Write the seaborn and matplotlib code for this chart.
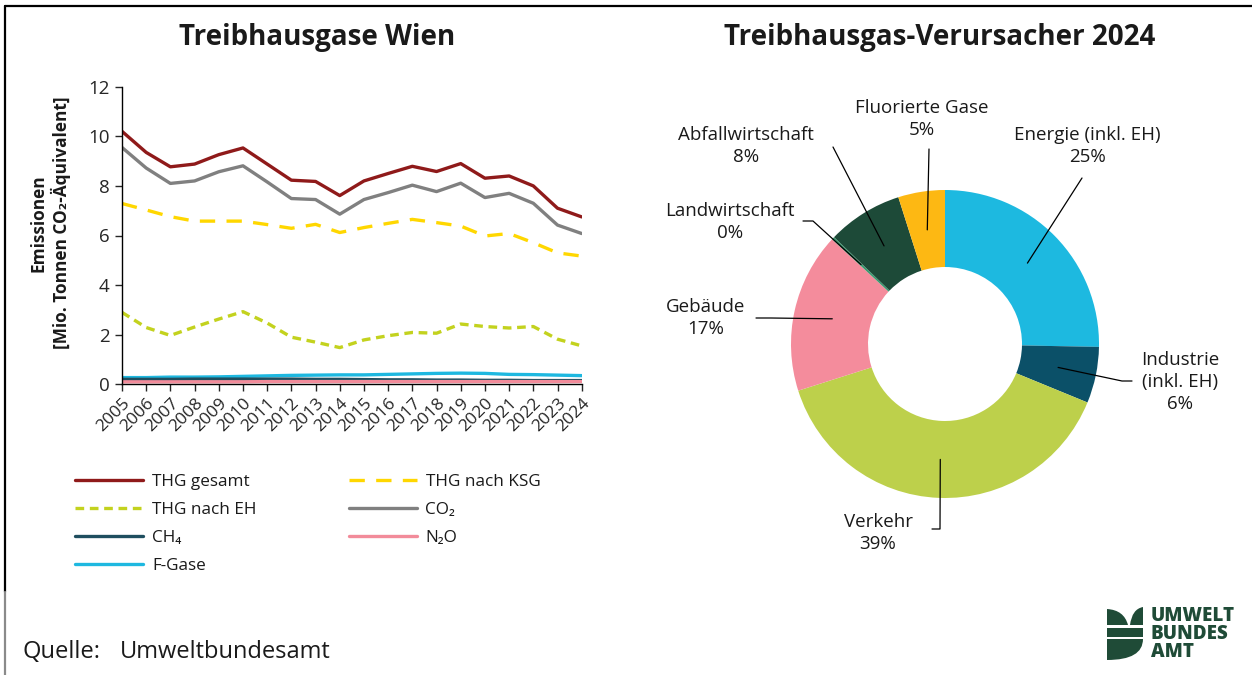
import numpy as np
import pandas as pd
import matplotlib.pyplot as plt
import seaborn as sns
from matplotlib.path import Path
from matplotlib.patches import PathPatch, Rectangle

# --- Daten: Treibhausgase Wien (Mio. t CO2-Äquivalent) ---
years = list(range(2005, 2025))
thg_gesamt = [10.20, 9.35, 8.77, 8.88, 9.26, 9.53, 8.88, 8.23, 8.18, 7.61,
              8.20, 8.50, 8.79, 8.58, 8.90, 8.31, 8.40, 8.00, 7.10, 6.75]
thg_ksg = [7.29, 7.03, 6.76, 6.58, 6.58, 6.58, 6.44, 6.29, 6.45, 6.12,
           6.32, 6.49, 6.65, 6.52, 6.38, 5.98, 6.08, 5.71, 5.30, 5.17]
thg_eh = [2.90, 2.29, 1.97, 2.31, 2.63, 2.93, 2.47, 1.90, 1.70, 1.48,
          1.79, 1.96, 2.09, 2.06, 2.43, 2.33, 2.27, 2.33, 1.82, 1.55]
co2 = [9.55, 8.72, 8.10, 8.20, 8.57, 8.81, 8.16, 7.49, 7.45, 6.86,
       7.45, 7.73, 8.03, 7.77, 8.11, 7.53, 7.70, 7.30, 6.42, 6.08]
ch4 = [0.20, 0.20, 0.20, 0.21, 0.21, 0.21, 0.21, 0.21, 0.20, 0.20,
       0.19, 0.18, 0.18, 0.17, 0.17, 0.16, 0.16, 0.15, 0.15, 0.15]
n2o = [0.10, 0.10, 0.10, 0.10, 0.10, 0.10, 0.11, 0.11, 0.11, 0.11,
       0.11, 0.11, 0.11, 0.11, 0.11, 0.11, 0.11, 0.11, 0.11, 0.11]
fgase = [0.27, 0.27, 0.29, 0.29, 0.30, 0.32, 0.34, 0.36, 0.37, 0.38,
         0.38, 0.40, 0.42, 0.44, 0.45, 0.44, 0.40, 0.39, 0.37, 0.35]

# --- Daten: Verursacher 2024 (%) ---
sectors = ["Energie (inkl. EH)", "Industrie\n(inkl. EH)", "Verkehr", "Gebäude",
           "Landwirtschaft", "Abfallwirtschaft", "Fluorierte Gase"]
shares = [25.3, 5.9, 38.9, 16.8, 0.3, 7.9, 4.9]
sector_colors = ["#1db9e0", "#0b5068", "#bdd04b", "#f48c9c",
                 "#3a9a70", "#1d4a38", "#fdb813"]

sns.set_theme(style="white")
plt.rcParams['font.family'] = ['Open Sans', 'DejaVu Sans']
plt.rcParams['text.color'] = '#1a1a1a'

W, H = 1252, 675
fig = plt.figure(figsize=(W / 100, H / 100), dpi=100)

# Hintergrund-Achse in Pixelkoordinaten (Rahmen, Titel, Quelle, Logo)
bg = fig.add_axes([0, 0, 1, 1])
bg.set_xlim(0, W)
bg.set_ylim(H, 0)
bg.axis('off')
bg.plot([5, W], [6, 6], color='black', lw=1.6)
bg.plot([5, 5], [6, 592], color='black', lw=1.6)
bg.plot([5, 5], [592, H], color='#8a8a8a', lw=1.6)

bg.text(317, 37, "Treibhausgase Wien", ha='center', va='center',
        fontsize=20, fontweight='bold')
bg.text(940, 37, "Treibhausgas-Verursacher 2024", ha='center', va='center',
        fontsize=20, fontweight='bold')
bg.text(22, 652, "Quelle:", ha='left', va='center', fontsize=17)
bg.text(120, 652, "Umweltbundesamt", ha='left', va='center', fontsize=17)

# Logo
logo_green = '#1f4b37'
left_leaf = Path([(1107, 609), (1124, 610), (1128, 625), (1107, 625), (1107, 609)],
                 [Path.MOVETO, Path.CURVE3, Path.CURVE3, Path.LINETO, Path.CLOSEPOLY])
right_leaf = Path([(1143, 607), (1132, 609), (1130, 625), (1143, 625), (1143, 607)],
                  [Path.MOVETO, Path.CURVE3, Path.CURVE3, Path.LINETO, Path.CLOSEPOLY])
bottom = Path([(1107, 639), (1143, 639), (1143, 660), (1107, 660), (1107, 639)],
              [Path.MOVETO, Path.LINETO, Path.CURVE3, Path.CURVE3, Path.CLOSEPOLY])
for p in (left_leaf, right_leaf, bottom):
    bg.add_patch(PathPatch(p, color=logo_green, lw=0))
bg.add_patch(Rectangle((1107, 628), 36, 9, color=logo_green, lw=0))
for txt, yy in zip(["UMWELT", "BUNDES", "AMT"], [616, 634, 652]):
    bg.text(1151, yy, txt, ha='left', va='center', fontsize=13.5,
            fontweight='heavy', color=logo_green)

# --- Linienchart ---
ax = fig.add_axes([122 / W, 1 - 384.3 / H, (581.7 - 122) / W, (384.3 - 86.7) / H])
series = [
    ("F-Gase", fgase, "#1eb8e0", None),
    ("CH₄", ch4, "#1f4e5f", None),
    ("N₂O", n2o, "#f28b9a", None),
    ("THG nach EH", thg_eh, "#c3d21e", (2.6, 1.7)),
    ("THG nach KSG", thg_ksg, "#ffd700", (4.6, 3.4)),
    ("CO₂", co2, "#808080", None),
    ("THG gesamt", thg_gesamt, "#8f1a1a", None),
]
handles = {}
for name, vals, col, dash in series:
    df = pd.DataFrame({"Jahr": years, "Wert": vals})
    sns.lineplot(data=df, x="Jahr", y="Wert", ax=ax, color=col, linewidth=2.4,
                 label=name)
    line = ax.lines[-1]
    if dash is not None:
        line.set_dashes(dash)
    handles[name] = line

ax.set_xlim(2005, 2024)
ax.set_ylim(0, 12)
ax.set_yticks(range(0, 13, 2))
ax.set_xticks(years)
ax.set_xticklabels([str(y) for y in years], rotation=45, ha='right',
                   rotation_mode='anchor', fontsize=12.5)
ax.tick_params(axis='y', labelsize=13.5, length=5, width=1, direction='out',
               left=True, pad=4)
ax.tick_params(axis='x', length=5, width=1, direction='out', bottom=True, pad=3)
for s in ['top', 'right']:
    ax.spines[s].set_visible(False)
for s in ['left', 'bottom']:
    ax.spines[s].set_color('black')
    ax.spines[s].set_linewidth(1)
ax.set_xlabel("")
ax.set_ylabel("")
ax.get_legend().remove()

bg.text(50, 223, "Emissionen\n[Mio. Tonnen CO₂-Äquivalent]", rotation=90,
        ha='center', va='center', multialignment='center', fontsize=12.4,
        fontweight='bold', linespacing=1.2)

order = ["THG gesamt", "THG nach EH", "CH₄", "F-Gase",
         "THG nach KSG", "CO₂", "N₂O"]
fig.legend([handles[n] for n in order], order, ncol=2, frameon=False,
           loc='upper left', bbox_to_anchor=(75 / W, 1 - 474 / H),
           fontsize=12.3, handlelength=4.0, handletextpad=0.5,
           columnspacing=5.4, labelspacing=0.71, borderpad=0, borderaxespad=0)

# --- Donut ---
R = 154
cx, cy = 945, 344
ax2 = fig.add_axes([(cx - 305) / W, 1 - (cy + 250) / H, 610 / W, 500 / H])
ax2.pie(shares, colors=sector_colors, startangle=90, counterclock=False,
        radius=1, wedgeprops=dict(width=0.5, edgecolor='none'))
ax2.set_xlim(-305 / R, 305 / R)
ax2.set_ylim(-250 / R, 250 / R)
ax2.set_aspect('equal')
ax2.axis('off')


def to_d(px, py):
    return (px - cx) / R, (cy - py) / R


# Beschriftung: Textmitte und Knickpunkte der Führungslinie (Pixel)
label_layout = [
    ((1087, 146), [(1082, 178)]),
    ((1180, 382), [(1122, 381), (1132, 381)]),
    ((878, 533), [(940, 529), (932, 529)]),
    ((706, 318), [(771, 318), (756, 318)]),
    ((730, 222), [(813, 221), (803, 221)]),
    ((746, 146), [(833, 147)]),
    ((922, 119), [(929, 149)]),
]
before = np.concatenate([[0], np.cumsum(shares)[:-1]])
for name, share, b, (tpos, route) in zip(sectors, shares, before, label_layout):
    mid = np.deg2rad(90 - 3.6 * (b + share / 2))
    pts = [(0.75 * np.cos(mid), 0.75 * np.sin(mid))] + [to_d(*p) for p in route]
    xs, ys = zip(*pts)
    ax2.plot(xs, ys, color='black', lw=0.9)
    tx, ty = to_d(*tpos)
    ax2.text(tx, ty, f"{name}\n{round(share)}%", ha='center', va='center',
             fontsize=13.5, linespacing=1.32, multialignment='center')

fig.savefig("out.png", dpi=100)
